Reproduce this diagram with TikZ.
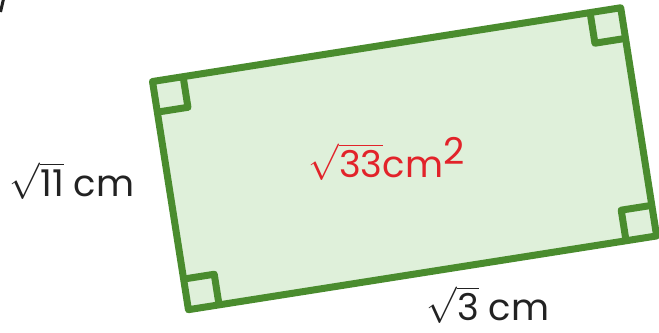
\documentclass[tikz,border=0pt]{standalone}
\usepackage{fontspec}
\setmainfont{Poppins}
\usepackage{tikz}
\definecolor{RectGreen}{HTML}{4A8C2E}
\definecolor{RectFill}{HTML}{DFF0DA}
\definecolor{AreaRed}{HTML}{E2232A}
\definecolor{LabelGray}{HTML}{222222}

\begin{document}
\begin{tikzpicture}[x=0.02cm, y=-0.02cm,
  side/.style={draw=RectGreen, line width=0.14cm, line join=round},
  lbl/.style={text=LabelGray, font=\fontsize{21}{24}\selectfont, inner sep=0pt}]
\useasboundingbox (0,0) rectangle (659,332);
% bit of the previous item's label, cut off at the edge
\draw[LabelGray, line width=0.06cm] (3.5,-1) -- (0.5,12);
\begin{scope}[shift={(152.5,81.5)}, rotate=8.95]
  \coordinate (tl) at (0,0);
  \coordinate (tr) at (474,0);
  \coordinate (br) at (474,231);
  \coordinate (bl) at (0,231);
  \draw[side, fill=RectFill] (tl) -- (tr) -- (br) -- (bl) -- cycle;
  % right angle marks
  \foreach \cx/\cy/\dx/\dy in {0/0/1/1, 474/0/-1/1, 474/231/-1/-1, 0/231/1/-1}
    \draw[side] (\cx,{\cy+31*\dy}) -- ++({31*\dx},0) -- ++(0,{-31*\dy});
\end{scope}
\node[lbl] (width) at (72,181) {$\sqrt{\mbox{11}}$ cm};
\node[lbl] (length) at (488,305) {$\sqrt{\mbox{3}}$ cm};
\node[lbl, text=AreaRed] (area) at (387,159) {$\sqrt{\mbox{33}}$cm$^{\mbox{2}}$};
\end{tikzpicture}
\end{document}
